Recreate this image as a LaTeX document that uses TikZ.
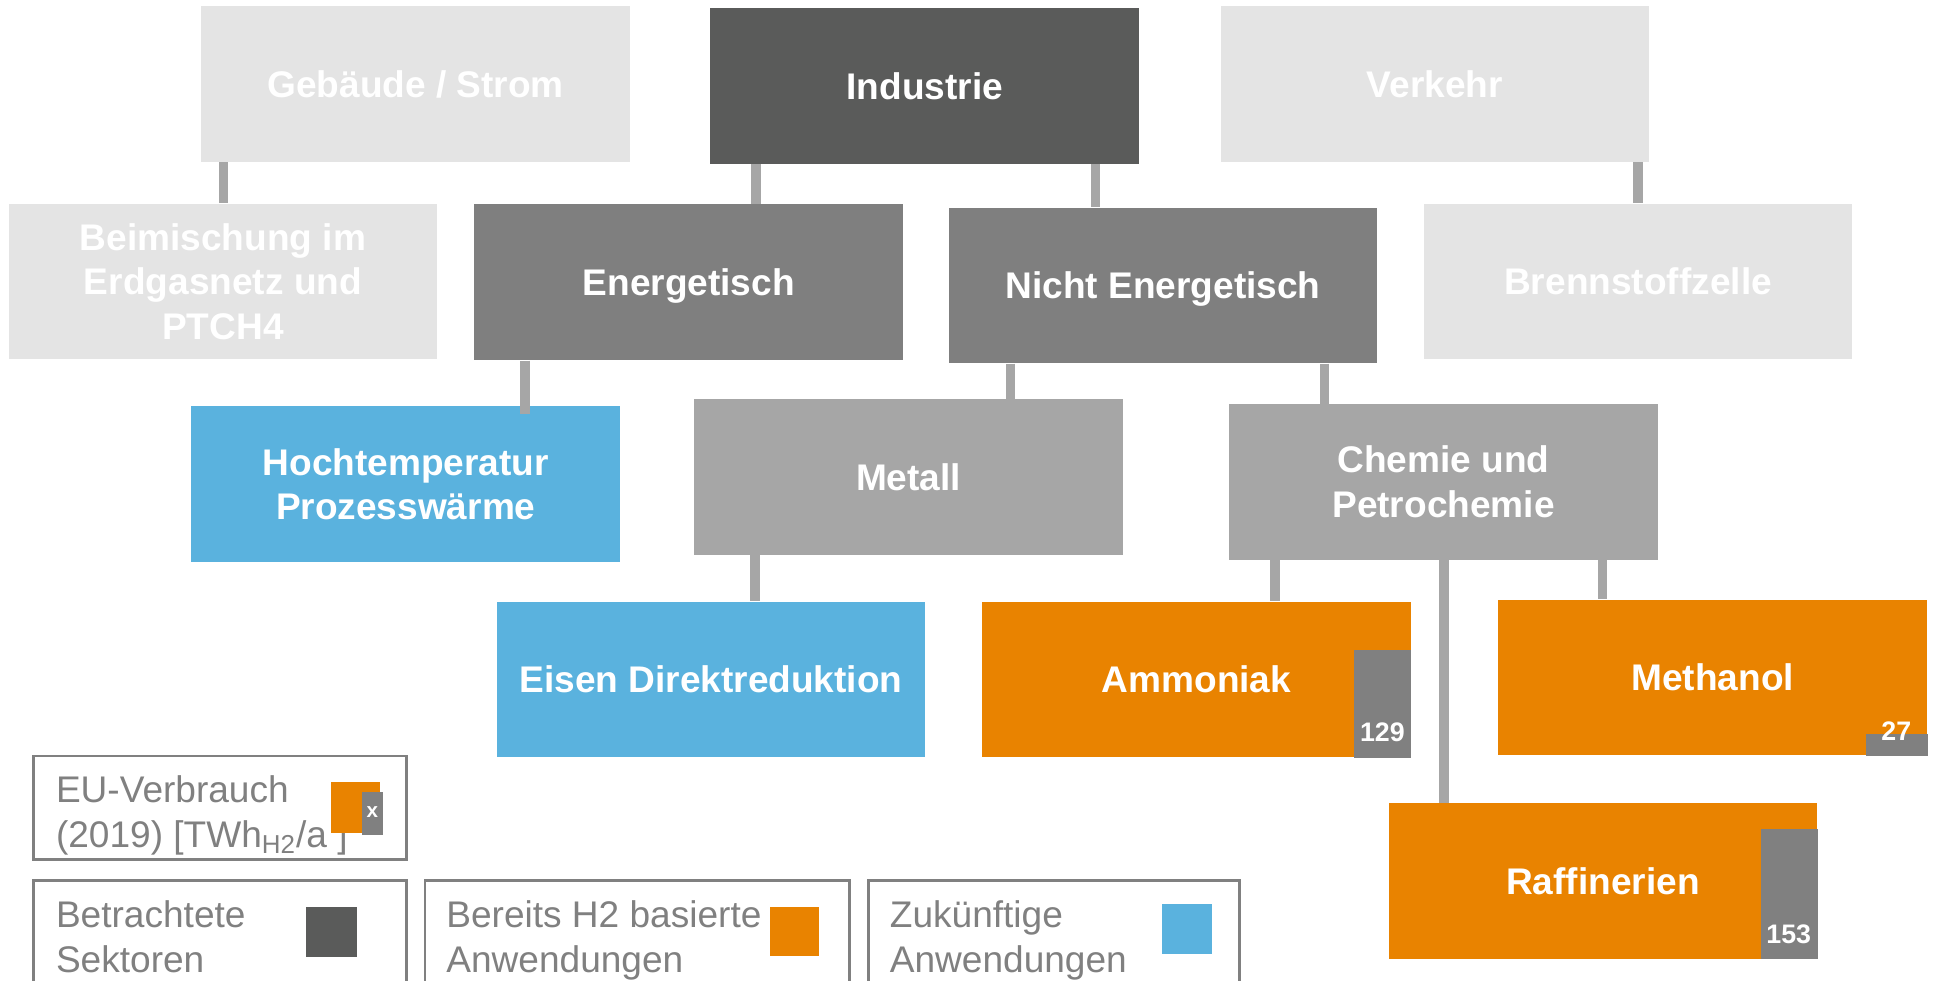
\documentclass[tikz,border=0pt]{standalone}
\usepackage{fontspec}
\setmainfont{Liberation Sans}
\definecolor{cLight}{HTML}{E4E4E4}
\definecolor{cDark}{HTML}{5A5B5A}
\definecolor{cMid}{HTML}{7F7F7F}
\definecolor{cGrayB}{HTML}{A6A6A6}
\definecolor{cBlue}{HTML}{5AB2DE}
\definecolor{cOrange}{HTML}{E98300}
\definecolor{cBar}{HTML}{808080}
\definecolor{cLine}{HTML}{A6A6A6}
\definecolor{cLeg}{HTML}{808080}
\begin{document}
\begin{tikzpicture}[x=0.6pt,y=-0.6pt,
  box/.style={rectangle, inner sep=0pt, minimum width=208.2pt, minimum height=75.6pt,
    text=white, font=\fontsize{18}{21.6}\selectfont\bfseries, align=center},
  oneline/.style={text height=12.9pt, text depth=0pt},
  lightbox/.style={box, fill=cLight},
  darkbox/.style={box, fill=cDark},
  midbox/.style={box, fill=cMid},
  graybox/.style={box, fill=cGrayB},
  bluebox/.style={box, fill=cBlue},
  orangebox/.style={box, fill=cOrange},
  conn/.style={draw=cLine, line width=4.6pt},
  barfill/.style={fill=cBar},
  num/.style={text=white, font=\fontsize{13}{15}\selectfont\bfseries, inner sep=0pt},
  legbox/.style={draw=cLeg, line width=1.4pt},
  legtext/.style={text=cLeg, font=\fontsize{18}{21.6}\selectfont, inner sep=0pt, anchor=base west},
]
\useasboundingbox (0,0) rectangle (1568,794);
\clip (0,0) rectangle (1568,794);

% row 1
\node[lightbox, oneline] (geb) at (336.5,68) {Gebäude / Strom};
\node[darkbox, oneline]  (ind) at (748.5,69.5) {Industrie};
\node[lightbox, oneline] (ver) at (1161.5,68) {Verkehr};
% row 2
\node[lightbox] (bei) at (180.5,228) {Beimischung im\\Erdgasnetz und\\PTCH4};
\node[midbox, oneline]   (ene) at (557.5,228.5) {Energetisch};
\node[midbox, oneline]   (nen) at (941.5,231) {Nicht Energetisch};
\node[lightbox, oneline] (bre) at (1326,228) {Brennstoffzelle};
% row 3
\node[bluebox]  (hoc) at (328.5,392) {Hochtemperatur\\Prozesswärme};
\node[graybox, oneline]  (met) at (735.5,386) {Metall};
\node[graybox]  (che) at (1168.5,390) {Chemie und\\Petrochemie};
% row 4
\node[bluebox, oneline]   (eis) at (575.5,550) {Eisen Direktreduktion};
\node[orangebox] (amm) at (968.5,550) {};
\node[orangebox] (mth) at (1386.5,548.5) {};
\node[orangebox] (raf) at (1297.5,713) {};

% value bars
\fill[barfill] (amm.south east) rectangle ++(-46,-87);
\fill[barfill] (mth.south east) rectangle ++(-50,-18);
\fill[barfill] (raf.south east) rectangle ++(-46,-105);
\node[box, oneline, minimum width=0pt, minimum height=0pt] (ammt) at (amm.center) {Ammoniak};
\node[box, oneline, minimum width=0pt, minimum height=0pt] (mtht) at (mth.center) {Methanol};
\node[box, oneline, minimum width=0pt, minimum height=0pt] (raft) at (raf.center) {Raffinerien};
\node[num] (v129) at (1119,593) {129};
\node[num] (v27)  at (1535,592) {27};
\node[num] (v153) at (1448,756) {153};

% connectors
\draw[conn] (geb.south -| 181,0) -- (bei.north -| 181,0);
\draw[conn] (ind.south -| 612,0) -- (ene.north -| 612,0);
\draw[conn] (ind.south -| 887,0) -- (nen.north -| 887,0);
\draw[conn] (ver.south -| 1326,0) -- (bre.north -| 1326,0);
\draw[conn] (ene.south -| 425,0) -- ([yshift=-4pt]hoc.north -| 425,0);
\draw[conn] (nen.south -| 818,0) -- (met.north -| 818,0);
\draw[conn] (nen.south -| 1072,0) -- (che.north -| 1072,0);
\draw[conn] (met.south -| 611,0) -- (eis.north -| 611,0);
\draw[conn] (che.south -| 1032,0) -- (amm.north -| 1032,0);
\draw[conn] (che.south -| 1169,0) -- (raf.north -| 1169,0);
\draw[conn] (che.south -| 1297,0) -- (mth.north -| 1297,0);

% legend
\draw[legbox] (27,612) rectangle (329,696);
\node[legtext] (l1a) at (45,650) {EU-Verbrauch};
\node[legtext] (l1b) at (45,686) {(2019) [TWh\textsubscript{H2}/a ]};
\fill[cOrange] (268,633) rectangle (308,674);
\fill[cBar] (293,641) rectangle (310,676);
\node[num, font=\fontsize{10}{12}\selectfont\bfseries] (lx) at (301.5,657) {x};

\draw[legbox] (27,713) rectangle (329,830);
\node[legtext] (l2a) at (45,751) {Betrachtete};
\node[legtext] (l2b) at (45,787) {Sektoren};
\fill[cDark] (248,734) rectangle (289,775);

\draw[legbox] (344,713) rectangle (688,830);
\node[legtext] (l3a) at (361,751) {Bereits H2 basierte};
\node[legtext] (l3b) at (361,787) {Anwendungen};
\fill[cOrange] (623,734) rectangle (663,774);

\draw[legbox] (703,713) rectangle (1003,830);
\node[legtext] (l4a) at (720,751) {Zukünftige};
\node[legtext] (l4b) at (720,787) {Anwendungen};
\fill[cBlue] (941,732) rectangle (981,772);
\end{tikzpicture}
\end{document}
